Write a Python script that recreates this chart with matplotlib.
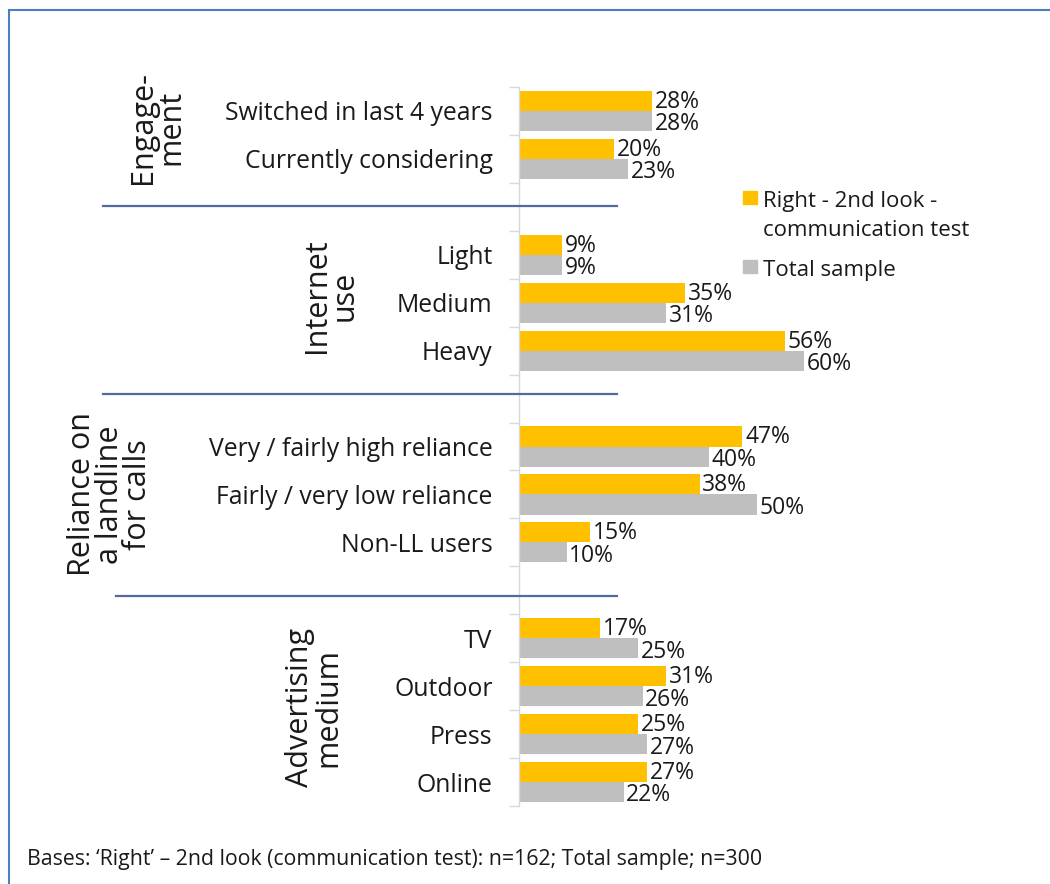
import matplotlib
matplotlib.use("Agg")
import matplotlib.pyplot as plt
from matplotlib.lines import Line2D
from matplotlib.patches import Rectangle
from matplotlib.transforms import blended_transform_factory

plt.rcParams['font.family'] = ['Open Sans', 'DejaVu Sans']

# ---------------- data ----------------
group_labels = ["Engage-\nment", "Internet\nuse", "Reliance on\na landline\nfor calls", "Advertising\nmedium"]
group_categories = [
    ["Switched in last 4 years", "Currently considering"],
    ["Light", "Medium", "Heavy"],
    ["Very / fairly high reliance", "Fairly / very low reliance", "Non-LL users"],
    ["TV", "Outdoor", "Press", "Online"],
]
right_2nd_look = [28, 20, 9, 35, 56, 47, 38, 15, 17, 31, 25, 27]
total_sample = [28, 23, 9, 31, 60, 40, 50, 10, 25, 26, 27, 22]
series_names = ["Right - 2nd look -\ncommunication test", "Total sample"]
footnote = "Bases: \u2018Right\u2019 \u2013 2nd look (communication test): n=162; Total sample; n=300"

YELLOW = "#FFC000"
GREY = "#BFBFBF"
SEP = "#4F6BA0"
FRAME = "#4F7EC0"
TXT = "#1A1A1A"
series_colors = [YELLOW, GREY]

# slot positions: groups separated by one blank slot
positions, labels, group_centers = [], [], []
slot = 0
for gi, cats in enumerate(group_categories):
    start = slot
    for c in cats:
        positions.append(slot)
        labels.append(c)
        slot += 1
    group_centers.append((start + slot - 1) / 2)
    slot += 1
n_slots = slot - 1

W, H = 1050, 884
fig = plt.figure(figsize=(W / 100, H / 100), dpi=100)
ax = fig.add_axes([519 / W, 1 - 806 / H, 475 / W, (806 - 87) / H])

bh = 0.42
y1 = [p - bh / 2 for p in positions]
y2 = [p + bh / 2 for p in positions]
ax.barh(y1, right_2nd_look, height=bh, color=YELLOW, label=series_names[0])
ax.barh(y2, total_sample, height=bh, color=GREY, label=series_names[1])

fs_val = 16.5
for y, v in zip(y1, right_2nd_look):
    ax.text(v + 0.6, y + 0.02, f"{v}%", va="center", ha="left", fontsize=fs_val, color=TXT)
for y, v in zip(y2, total_sample):
    ax.text(v + 0.6, y + 0.07, f"{v}%", va="center", ha="left", fontsize=fs_val, color=TXT)

ax.set_xlim(0, 100)
ax.set_ylim(n_slots - 0.5, -0.5)
ax.set_xticks([])
ax.set_yticks(positions)
ax.set_yticklabels(labels, fontsize=17.8, color=TXT)
ax.tick_params(axis="y", which="major", length=0, pad=19)
ax.set_yticks([i - 0.5 for i in range(n_slots + 1)], minor=True)
ax.tick_params(axis="y", which="minor", length=7.5, color="#D9D9D9", width=1)
for s in ["top", "right", "bottom"]:
    ax.spines[s].set_visible(False)
ax.spines["left"].set_color("#D9D9D9")
ax.spines["left"].set_linewidth(1)

# group labels (rotated)
tr = blended_transform_factory(fig.transFigure, ax.transData)
group_x = [157, 331, 110, 314]
group_dy = [-0.15, -0.15, 0.0, -0.05]
for lab, gc, gx, dy in zip(group_labels, group_centers, group_x, group_dy):
    ax.text(gx / W, gc + dy, lab, transform=tr,
            rotation=90, ha="center", va="center", multialignment="center",
            fontsize=22, color=TXT, linespacing=0.92)

# separator lines
for (yy, x0, x1) in [(206, 103, 617), (394, 103, 617), (596, 116, 617)]:
    fig.add_artist(Line2D([x0 / W, x1 / W], [1 - yy / H, 1 - yy / H], color=SEP, lw=1.6,
                          transform=fig.transFigure))

# legend (manual, marker aligned with first text line)
leg_items = [(series_names[0], series_colors[0], 198), (series_names[1], series_colors[1], 267)]
for name, col, yc in leg_items:
    fig.add_artist(Rectangle((743 / W, 1 - (yc + 6) / H), 14 / W, 13 / H, color=col,
                             transform=fig.transFigure))
    fig.text(763 / W, 1 - (yc - 7) / H, name, ha="left", va="top", fontsize=16,
             color=TXT, linespacing=1.5)

# frame
fig.add_artist(Line2D([9 / W, 9 / W], [0, 1 - 10 / H], color=FRAME, lw=1.5, transform=fig.transFigure))
fig.add_artist(Line2D([9 / W, 1], [1 - 10 / H, 1 - 10 / H], color=FRAME, lw=1.5, transform=fig.transFigure))

fig.text(27 / W, 1 - 860 / H, footnote, ha="left", va="center", fontsize=15.3, color=TXT)

fig.savefig("out.png", dpi=100)
